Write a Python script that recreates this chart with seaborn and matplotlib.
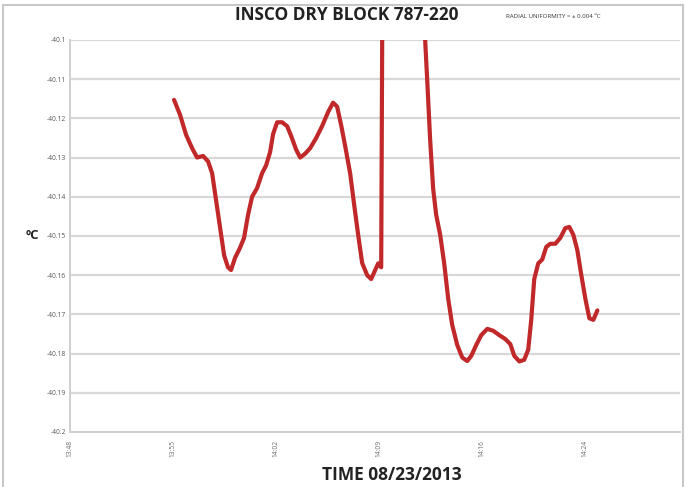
import matplotlib
matplotlib.use("Agg")
import matplotlib.pyplot as plt
import seaborn as sns
import pandas as pd
from matplotlib.patches import Rectangle

# minutes after 13:48
minutes = [7.27, 7.69, 8.11, 8.53, 8.88, 9.30, 9.65, 9.93, 10.21, 10.49, 10.77, 11.04,
           11.25, 11.53, 11.88, 12.16, 12.44, 12.72, 13.07, 13.42, 13.70, 13.98, 14.19,
           14.47, 14.82, 15.17, 15.45, 15.80, 16.08, 16.43, 16.78, 17.20, 17.61, 18.03,
           18.38, 18.66, 18.94, 19.22, 19.57, 19.85, 20.13, 20.41, 20.76, 21.04, 21.32,
           21.53, 21.74, 21.88, 24.70, 24.81, 24.95, 25.16, 25.37, 25.58, 25.86, 26.14,
           26.42, 26.70, 27.05, 27.40, 27.75, 28.03, 28.38, 28.73, 29.15, 29.57, 29.99,
           30.41, 30.76, 31.04, 31.39, 31.73, 32.01, 32.22, 32.43, 32.71, 32.99, 33.27,
           33.55, 33.90, 34.25, 34.60, 34.88, 35.16, 35.44, 35.72, 36.00, 36.28, 36.56,
           36.84]
temps = [-40.1153, -40.1191, -40.1242, -40.1276, -40.1300, -40.1296, -40.1310, -40.1340,
         -40.1410, -40.1480, -40.1550, -40.1580, -40.1587, -40.1556, -40.1530, -40.1505,
         -40.1446, -40.1400, -40.1378, -40.1340, -40.1320, -40.1286, -40.1240, -40.1210,
         -40.1210, -40.1220, -40.1245, -40.1280, -40.1300, -40.1290, -40.1276, -40.1250,
         -40.1220, -40.1184, -40.1160, -40.1170, -40.1217, -40.1270, -40.1340, -40.1420,
         -40.1497, -40.1569, -40.1600, -40.1610, -40.1587, -40.1570, -40.1580, -40.0400,
         -40.0400, -40.1000, -40.1100, -40.1255, -40.1380, -40.1446, -40.1497, -40.1570,
         -40.1660, -40.1727, -40.1778, -40.1810, -40.1819, -40.1806, -40.1778, -40.1753,
         -40.1737, -40.1742, -40.1753, -40.1763, -40.1776, -40.1806, -40.1820, -40.1816,
         -40.1790, -40.1714, -40.1610, -40.1570, -40.1560, -40.1528, -40.1520, -40.1520,
         -40.1505, -40.1480, -40.1477, -40.1497, -40.1536, -40.1600, -40.1660, -40.1710,
         -40.1714, -40.1690]

x_ticks = [0, 7.2, 14.4, 21.6, 28.8, 36.0]
x_labels = ["13:48", "13:55", "14:02", "14:09", "14:16", "14:24"]
y_ticks = [-40.1, -40.11, -40.12, -40.13, -40.14, -40.15, -40.16, -40.17, -40.18, -40.19, -40.2]
y_labels = ["-40.1", "-40.11", "-40.12", "-40.13", "-40.14", "-40.15", "-40.16",
            "-40.17", "-40.18", "-40.19", "-40.2"]

sns.set_style("white")
plt.rcParams['font.family'] = ['Open Sans', 'DejaVu Sans']

df = pd.DataFrame({'Time': minutes, 'Temp': temps})

fig = plt.figure(figsize=(6.86, 4.87), dpi=100)
ax = fig.add_axes([0.102, 0.113, 0.889, 0.805])

sns.lineplot(data=df, x='Time', y='Temp', sort=False, color="#c0282a",
             linewidth=3.0, ax=ax, errorbar=None)

ax.set_xlim(0, 42.6)
ax.set_ylim(-40.2, -40.1)
ax.set_xticks(x_ticks)
ax.set_xticklabels(x_labels, rotation=90, fontsize=4.8, color="#6a6a6a")
ax.set_yticks(y_ticks)
ax.set_yticklabels(y_labels, fontsize=4.8, color="#555555")
ax.tick_params(axis='x', length=0, pad=6)
ax.tick_params(axis='y', length=0, pad=3)
ax.yaxis.grid(True, color="#d8d8d8", linewidth=1.6)
ax.set_axisbelow(True)
ax.spines['right'].set_visible(False)
ax.spines['top'].set_visible(False)
for s in ['left', 'bottom']:
    ax.spines[s].set_color("#cfcfcf")
    ax.spines[s].set_linewidth(1.4)

ax.set_xlabel("")
ax.set_ylabel("ºC", fontsize=9.5, fontweight='bold', rotation=0, color="#222222",
              labelpad=10, va='center')

fig.text(0.505, 0.969, "INSCO DRY BLOCK 787-220", fontsize=12.4, fontweight='bold',
         ha='center', va='center', color="#222222")
fig.text(0.737, 0.967, "RADIAL UNIFORMITY = ± 0.004 ºC", fontsize=4.4,
         ha='left', va='center', color="#333333")
fig.text(0.571, 0.006, "TIME 08/23/2013", fontsize=12.5, fontweight='bold',
         ha='center', va='bottom', color="#222222")

fig.patches.append(Rectangle((0.005, -0.02), 0.99, 1.01, transform=fig.transFigure,
                             fill=False, edgecolor="#c8c8c8", linewidth=1.5))

fig.savefig("out.png", dpi=100)
